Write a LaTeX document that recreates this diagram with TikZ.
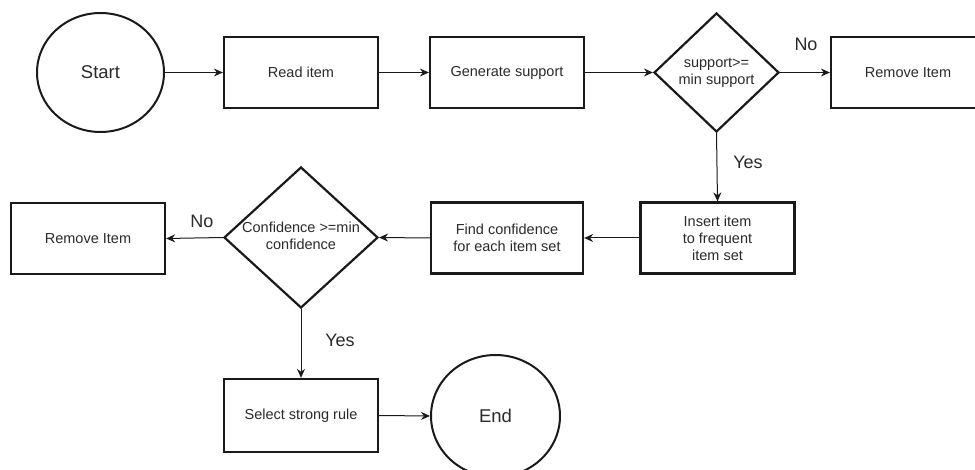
\documentclass[tikz,border=0pt]{standalone}
\usepackage{fontspec}
\setmainfont{Liberation Sans}
\usetikzlibrary{shapes.geometric,arrows.meta}
\definecolor{edgecol}{HTML}{1A1A1A}
\definecolor{txtcol}{HTML}{2B2B2B}
\tikzset{
  boxnode/.style={draw=edgecol, line width=2.3pt, rectangle, inner sep=0pt,
    minimum width=154pt, minimum height=71pt, font=\fontsize{14.5}{17}\selectfont,
    text=txtcol, align=center},
  termnode/.style={draw=edgecol, line width=2pt, ellipse, inner sep=0pt,
    font=\fontsize{18.5}{22}\selectfont, text=txtcol},
  decnode/.style={draw=edgecol, line width=2.2pt, diamond, inner sep=0pt,
    font=\fontsize{14.5}{17}\selectfont, text=txtcol},
  lbl/.style={font=\fontsize{18}{21}\selectfont, text=txtcol, inner sep=0pt},
  conn/.style={draw=edgecol, line width=1pt, -{Stealth[length=9pt,width=8pt,inset=3pt]}},
}
\newcommand{\twol}[2]{\makebox[0pt]{\begin{tabular}{@{}c@{}}#1\\#2\end{tabular}}}
\begin{document}
\begin{tikzpicture}[x=1pt,y=-1pt]
\clip (0,0) rectangle (975,470);
\fill[white] (0,0) rectangle (975,470);
% nodes
\node[termnode, minimum width=127pt, minimum height=119pt] (start) at (100.5,72.5) {Start};
\node[boxnode] (read) at (301,72.5) {Read item};
\node[boxnode] (gen) at (507,72.5) {Generate support};
\node[decnode, minimum width=125pt, minimum height=119pt] (d1) at (716.5,72.5) {\twol{support>=}{min support}};
\node[boxnode] (rem1) at (908,72.5) {Remove Item};
\node[boxnode] (ins) at (717.5,238) {Insert item\\to frequent\\item set};
\node[boxnode, minimum width=152pt] (find) at (507,238) {Find confidence\\for each item set};
\node[decnode, minimum width=154pt, minimum height=141pt] (d2) at (301,237.5) {\twol{Confidence >=min}{confidence}};
\node[boxnode] (rem2) at (88,238.5) {Remove Item};
\node[boxnode, minimum height=73pt] (sel) at (301,415.5) {Select strong rule};
\node[termnode, minimum width=129pt, minimum height=122pt] (end) at (495.5,416) {End};
% labels
\node[lbl] (no1) at (806,44) {No};
\node[lbl] (yes1) at (748,162) {Yes};
\node[lbl] (no2) at (202,221) {No};
\node[lbl] (yes2) at (340,340) {Yes};
% connectors
\draw[conn] (start.east) -- (read.west);
\draw[conn] (read.east) -- (gen.west);
\draw[conn] (gen.east) -- (d1.west);
\draw[conn] (d1.east) -- (rem1.west);
\draw[conn] (d1.south) -- (ins.north);
\draw[conn] (ins.west) -- (find.east);
\draw[conn] (find.west) -- (d2.east);
\draw[conn] (d2.west) -- (rem2.east);
\draw[conn] (d2.south) -- (sel.north);
\draw[conn] (sel.east) -- (end.west);
\end{tikzpicture}
\end{document}
